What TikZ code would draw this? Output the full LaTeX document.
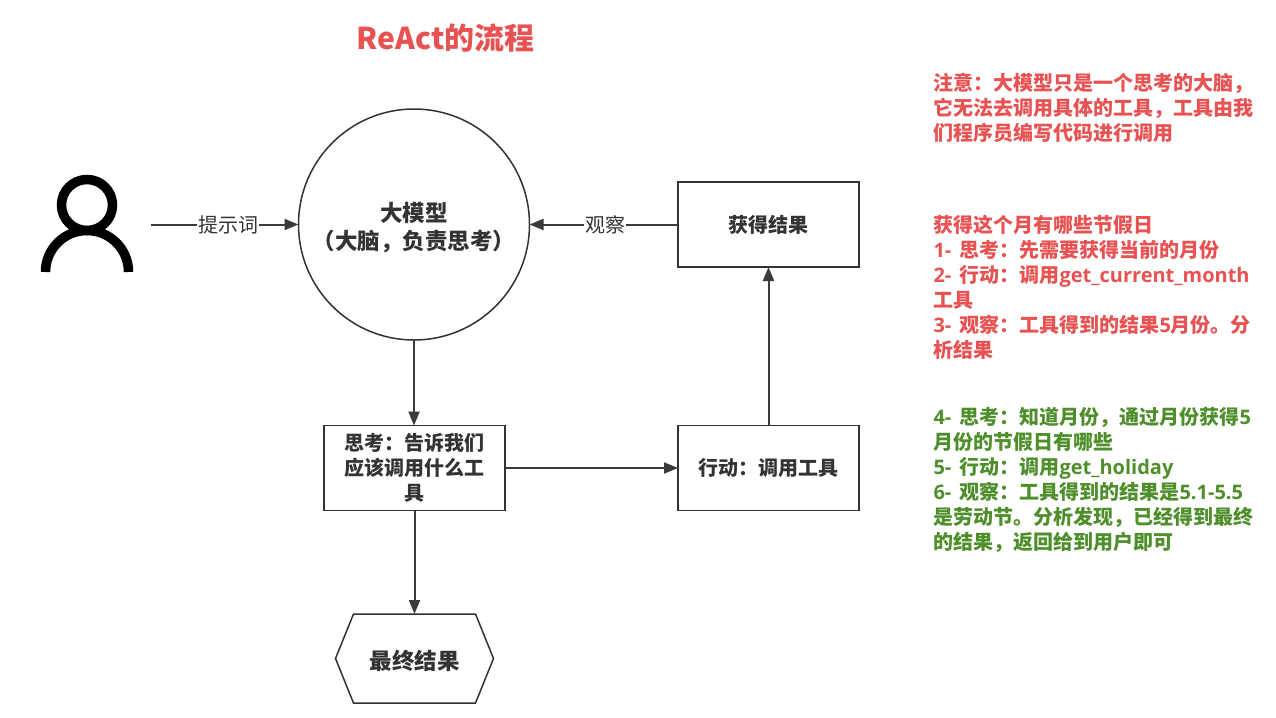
\documentclass[tikz,border=0pt]{standalone}
\usepackage{fontspec}
\setmainfont{Noto Sans CJK SC}
\newfontfamily\regfont{Noto Sans CJK SC}
\newfontfamily\latfont{Open Sans}
\newcommand{\lat}[1]{{\latfont\bfseries #1}}
\newcommand{\num}[1]{{\latfont\bfseries #1- }\kern3pt}
\usetikzlibrary{arrows.meta,calc}
\definecolor{noteRed}{HTML}{E85252}
\definecolor{noteGreen}{HTML}{4E8F2B}
\definecolor{inkDark}{HTML}{333333}
\definecolor{edgeDark}{HTML}{2D3436}
\definecolor{lineDark}{HTML}{3A3A3A}
\tikzset{
  x=1pt,y=-1pt,
  every node/.style={inner sep=0pt,outer sep=0pt},
  boxnode/.style={draw=edgeDark,line width=1.5pt,minimum width=181pt,minimum height=85pt,align=center,text=inkDark,font=\fontsize{20}{25}\selectfont\bfseries},
  brainnode/.style={draw=edgeDark,line width=1.5pt,circle,minimum size=231pt},
  braintext/.style={align=center,text=inkDark,yshift=-3pt,font=\fontsize{22.5}{28}\selectfont\bfseries},
  hexnode/.style={minimum width=158pt,minimum height=89pt},
  hextext/.style={text=inkDark,yshift=-2pt,font=\fontsize{22.5}{25}\selectfont\bfseries},
  link/.style={draw=lineDark,line width=2pt,-{Triangle[length=14pt,width=11pt]}},
  edgelabel/.style={fill=white,text=inkDark,font=\fontsize{20}{24}\selectfont\regfont,inner xsep=1pt},
  notetext/.style={anchor=north west,align=left,font=\fontsize{20}{25}\selectfont\bfseries},
}
\begin{document}
\begin{tikzpicture}
\useasboundingbox (0,0) rectangle (1276,717);
\fill[white] (0,0) rectangle (1276,717);
\node[text=noteRed,font=\fontsize{30}{36}\selectfont\bfseries] (title) at (445.5,38.5) {ReAct的流程};
% user icon
\draw[black,line width=9.5pt] (87,205) circle (25.5);
\draw[black,line width=9.5pt] (45.5,272) arc[start angle=180,end angle=360,radius=41.5];
\coordinate (userend) at (151,224.5);
\node[brainnode,label={[braintext]center:大模型\\（大脑，负责思考）}] (brain) at (414,224.5) {};
\node[boxnode] (result) at (768.5,224.5) {获得结果};
\node[boxnode] (action) at (768.5,468) {行动：调用工具};
\node[boxnode] (think) at (414.5,468) {思考：告诉我们\\应该调用什么工\\具};
\node[hexnode,label={[hextext]center:最终结果}] (final) at (414.5,658.5) {};
\draw[draw=edgeDark,line width=1.5pt] ($(final.north west)+(18,0)$) -- ($(final.north east)+(-18,0)$) -- (final.east) -- ($(final.south east)+(-18,0)$) -- ($(final.south west)+(18,0)$) -- (final.west) -- cycle;
\draw[link] (userend) -- (brain.west) node[edgelabel,pos=.525] {提示词};
\draw[link] (result.west) -- (brain.east) node[edgelabel,pos=.49] {观察};
\draw[link] (brain.south) -- (think.north -| brain.south);
\draw[link] (think.east) -- (action.west);
\draw[link] (action.north) -- (result.south);
\draw[link] (think.south) -- (final.north);
\node[notetext,text=noteRed] (note1) at (933.5,73) {注意：大模型只是一个思考的大脑，\\它无法去调用具体的工具，工具由我\\们程序员编写代码进行调用};
\node[notetext,text=noteRed] (note2) at (933.5,215) {获得这个月有哪些节假日\\\num{1}思考：先需要获得当前的月份\\\num{2}行动：调用\lat{get\_current\_month}\\工具\\\num{3}观察：工具得到的结果\lat{5}月份。分\\析结果};
\node[notetext,text=noteGreen] (note3) at (933.5,407) {\num{4}思考：知道月份，通过月份获得\lat{5}\\月份的节假日有哪些\\\num{5}行动：调用\lat{get\_holiday}\\\num{6}观察：工具得到的结果是\lat{5.1-5.5}\\是劳动节。分析发现，已经得到最终\\的结果，返回给到用户即可};
\end{tikzpicture}
\end{document}
